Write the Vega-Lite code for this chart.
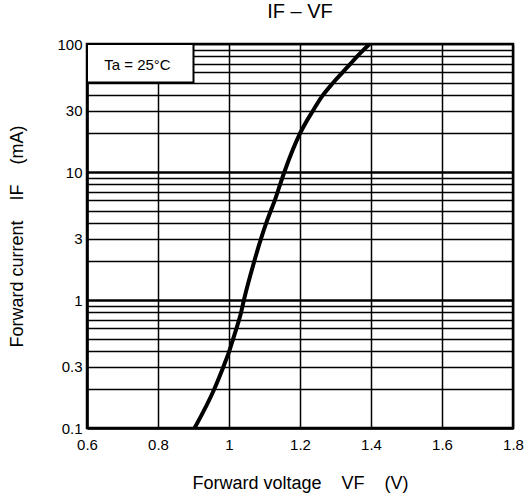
{
  "$schema": "https://vega.github.io/schema/vega-lite/v6.json",
  "width": 426,
  "height": 384,
  "autosize": {"type": "none"},
  "padding": {"left": 87, "top": 44, "right": 16, "bottom": 74},
  "background": "white",
  "config": {
    "font": "Liberation Sans",
    "view": {"stroke": "black", "strokeWidth": 2.5},
    "axis": {
      "labelFont": "Liberation Sans",
      "titleFont": "Liberation Sans",
      "labelColor": "black",
      "titleColor": "black",
      "gridColor": "black",
      "gridOpacity": 1,
      "domainColor": "black",
      "domainWidth": 2.5,
      "ticks": false,
      "tickSize": 0,
      "labelFontSize": 15,
      "titleFontSize": 18,
      "titleFontWeight": "normal",
      "labelFlush": false,
      "labelOverlap": false,
      "labelBound": false
    }
  },
  "title": {
    "text": "IF – VF",
    "fontSize": 20,
    "fontWeight": "normal",
    "font": "Liberation Sans",
    "color": "black",
    "anchor": "middle",
    "frame": "group",
    "offset": 15
  },
  "layer": [
    {
      "data": {
        "values": [
          {"voltage": 0.903, "current": 0.1},
          {"voltage": 0.958, "current": 0.2},
          {"voltage": 0.984, "current": 0.3},
          {"voltage": 1.001, "current": 0.4},
          {"voltage": 1.012, "current": 0.5},
          {"voltage": 1.021, "current": 0.6},
          {"voltage": 1.034, "current": 0.8},
          {"voltage": 1.042, "current": 1},
          {"voltage": 1.071, "current": 2},
          {"voltage": 1.090, "current": 3},
          {"voltage": 1.105, "current": 4},
          {"voltage": 1.118, "current": 5},
          {"voltage": 1.129, "current": 6},
          {"voltage": 1.144, "current": 8},
          {"voltage": 1.156, "current": 10},
          {"voltage": 1.200, "current": 20},
          {"voltage": 1.236, "current": 30},
          {"voltage": 1.265, "current": 40},
          {"voltage": 1.294, "current": 50},
          {"voltage": 1.320, "current": 60},
          {"voltage": 1.342, "current": 70},
          {"voltage": 1.361, "current": 80},
          {"voltage": 1.379, "current": 90},
          {"voltage": 1.396, "current": 100}
        ]
      },
      "mark": {"type": "line", "color": "black", "strokeWidth": 4, "interpolate": "monotone", "clip": true},
      "encoding": {
        "x": {
          "field": "voltage",
          "type": "quantitative",
          "scale": {"domain": [0.6, 1.8], "nice": false, "zero": false},
          "axis": {
            "values": [0.6, 0.7, 0.8, 0.9, 1.0, 1.1, 1.2, 1.3, 1.4, 1.5, 1.6, 1.7, 1.8],
            "format": "~g",
            "labelExpr": "indexof([0.6, 0.8, 1, 1.2, 1.4, 1.6, 1.8], datum.value) >= 0 ? datum.label : ''",
            "grid": true,
            "gridWidth": 1.5,
            "labelPadding": 9,
            "title": "Forward voltage\u00a0\u00a0\u00a0\u00a0VF\u00a0\u00a0\u00a0\u00a0(V)",
            "titlePadding": 22
          }
        },
        "y": {
          "field": "current",
          "type": "quantitative",
          "scale": {"type": "log", "domain": [0.1, 100], "nice": false},
          "axis": {
            "values": [0.1, 0.2, 0.3, 0.4, 0.5, 0.6, 0.7, 0.8, 0.9, 1, 2, 3, 4, 5, 6, 7, 8, 9, 10, 20, 30, 40, 50, 60, 70, 80, 90, 100],
            "format": "~g",
            "labelExpr": "indexof([0.1, 0.3, 1, 3, 10, 30, 100], datum.value) >= 0 ? datum.label : ''",
            "grid": true,
            "gridWidth": {"condition": {"test": "datum.value === 1 || datum.value === 10", "value": 2.5}, "value": 1.4},
            "labelPadding": 5,
            "title": "Forward current\u00a0\u00a0\u00a0\u00a0IF\u00a0\u00a0\u00a0\u00a0(mA)",
            "titlePadding": 30
          }
        }
      }
    },
    {
      "data": {"values": [{"x1": 0.6, "x2": 0.9, "y1": 50, "y2": 100}]},
      "mark": {"type": "rect", "fill": "white", "stroke": "black", "strokeWidth": 2},
      "encoding": {
        "x": {"field": "x1", "type": "quantitative"},
        "x2": {"field": "x2"},
        "y": {"field": "y1", "type": "quantitative"},
        "y2": {"field": "y2"}
      }
    },
    {
      "data": {"values": [{"tx": 0.742, "ty": 69, "label": "Ta = 25°C"}]},
      "mark": {"type": "text", "font": "Liberation Sans", "fontSize": 15, "color": "black", "align": "center", "baseline": "middle"},
      "encoding": {
        "x": {"field": "tx", "type": "quantitative"},
        "y": {"field": "ty", "type": "quantitative"},
        "text": {"field": "label"}
      }
    }
  ]
}
